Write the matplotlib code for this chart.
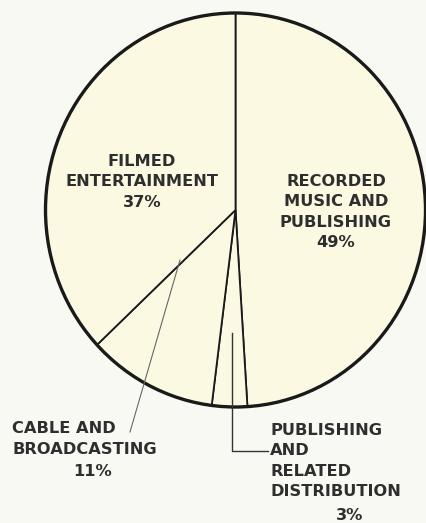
import matplotlib.pyplot as plt
from matplotlib.patches import Circle

# Shares of revenue by segment (clockwise from 12 o'clock)
segments = ["RECORDED\nMUSIC AND\nPUBLISHING", "PUBLISHING\nAND\nRELATED\nDISTRIBUTION",
            "CABLE AND\nBROADCASTING", "FILMED\nENTERTAINMENT"]
shares = [49, 3, 11, 37]

# pie centre and radii in image pixels (the scan is slightly oval)
CX, CY, RX, RY = 235.5, 210, 190, 197
W, H = 426, 523


def at(px, py):
    # pixel position (from top-left) -> data coords of the pie axes
    return (px - CX) / RX, (CY - py) / RY


fig = plt.figure(figsize=(W / 100, H / 100), dpi=100, facecolor="#f9f9f4")
ax = fig.add_axes([0, 0, 1, 1])
ax.pie(shares, startangle=90, counterclock=False, radius=1,
       colors=["#fcf9e2"] * len(shares),
       wedgeprops=dict(edgecolor="#1a1a1a", linewidth=1.3))
ax.add_patch(Circle((0, 0), 1, fill=False, edgecolor="#1a1a1a", linewidth=2.4))
ax.set_aspect("auto")
ax.set_xlim(-CX / RX, (W - CX) / RX)
ax.set_ylim((CY - H) / RY, CY / RY)
ax.axis("off")

font = dict(fontsize=11.7, fontweight="heavy", color="#2e2e2e", family="DejaVu Sans",
            linespacing=1.42)

# labels inside the pie
ax.text(*at(142, 182), f"{segments[3]}\n{shares[3]}%", ha="center", va="center", **font)
ax.text(*at(336, 212), f"{segments[0]}\n{shares[0]}%", ha="center", va="center", **font)

# cable label with leader
ax.text(*at(12, 439), segments[2], ha="left", va="center", **font)
ax.text(*at(93, 472), f"{shares[2]}%", ha="center", va="center", **font)
ax.plot(*zip(at(180, 260), at(130, 432)), color="#666666", linewidth=0.8)

# publishing label with elbow leader
ax.text(*at(270, 461), segments[1], ha="left", va="center", **font)
ax.text(*at(350, 515), f"{shares[1]}%", ha="center", va="center", **font)
ax.plot(*zip(at(232, 333), at(232, 451), at(268, 451)), color="#333333", linewidth=1.0)

fig.savefig("out.png", dpi=100, facecolor=fig.get_facecolor())
